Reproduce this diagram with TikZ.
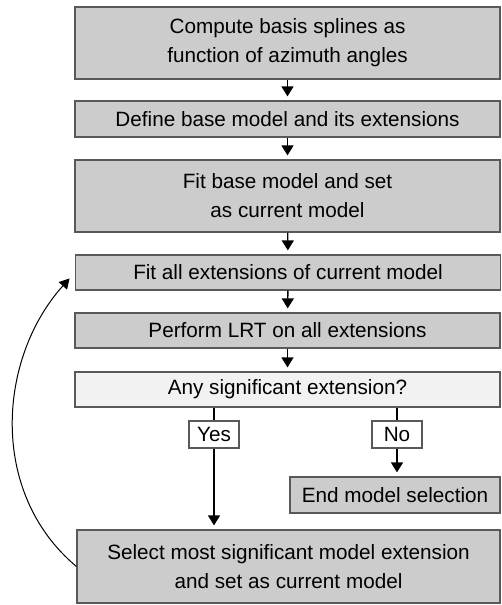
\documentclass[tikz,border=0pt]{standalone}
\usepackage{fontspec}
\setmainfont{Liberation Sans}
\usetikzlibrary{arrows.meta}
\tikzset{
	stepbox/.style={draw=black!65, line width=1.2pt, fill=black!20, minimum width=425pt, align=center, inner sep=0pt, font=\fontsize{20.7}{29}\selectfont},
	askbox/.style={stepbox, fill=black!5},
	answer/.style={draw=black!65, line width=1.2pt, fill=white, minimum width=50pt, minimum height=27pt, inner sep=0pt, font=\fontsize{20.7}{29}\selectfont},
	flow/.style={line width=1.4pt, -{Triangle[width=12pt,length=10pt]}, shorten >=4pt},
}

\begin{document}
\begin{tikzpicture}[x=1pt, y=1pt]
			%%%%% START %%%%%
			\useasboundingbox (0, 0) rectangle (501, 605);
			
			\node[stepbox, minimum height=72pt] (basis) at (287.5, 562) {Compute basis splines as\\function of azimuth angles};
			\node[stepbox, minimum height=36pt] (define) at (287.5, 486) {Define base model and its extensions};
			\node[stepbox, minimum height=72pt] (fitbase) at (287.5, 409) {Fit base model and set\\as current model};
			\node[stepbox, minimum height=35pt] (fitext) at (288, 332.5) {Fit all extensions of current model};
			\node[stepbox, minimum height=35pt] (lrt) at (287.5, 274.5) {Perform LRT on all extensions};
			\node[askbox, minimum height=35pt] (signif) at (287.5, 215.5) {Any significant extension?};
			
			\node[answer] (yes) at (214, 170.5) {Yes};
			\node[answer] (no) at (397, 170.5) {No};
			
			\node[stepbox, minimum width=210pt, minimum height=36pt] (stop) at (395, 110) {End model selection};
			\node[stepbox, minimum width=423pt, minimum height=73pt] (select) at (288.5, 38.5) {Select most significant model extension\\and set as current model};
			
			\draw[flow] (basis) -- (define);
			\draw[flow] (define) -- (fitbase);
			\draw[flow] (fitbase) -- (fitext);
			\draw[flow] (fitext) -- (lrt);
			\draw[flow] (lrt) -- (signif);
			
			\draw[line width=1.4pt] (signif.south -| yes) -- (yes);
			\draw[flow] (yes) -- (select.north -| yes);
			\draw[line width=1.4pt] (signif.south -| no) -- (no);
			\draw[flow] (no) -- (stop.north -| no);
			
			% back to the fit of the extensions
			\draw[line width=1pt, -{Triangle[width=11pt,length=10pt]}, shorten >=8pt] (select.west) to[out=140, in=228, looseness=1.0] (fitext.west);
			
			%%%%% END %%%%%
		\end{tikzpicture}
\end{document}
